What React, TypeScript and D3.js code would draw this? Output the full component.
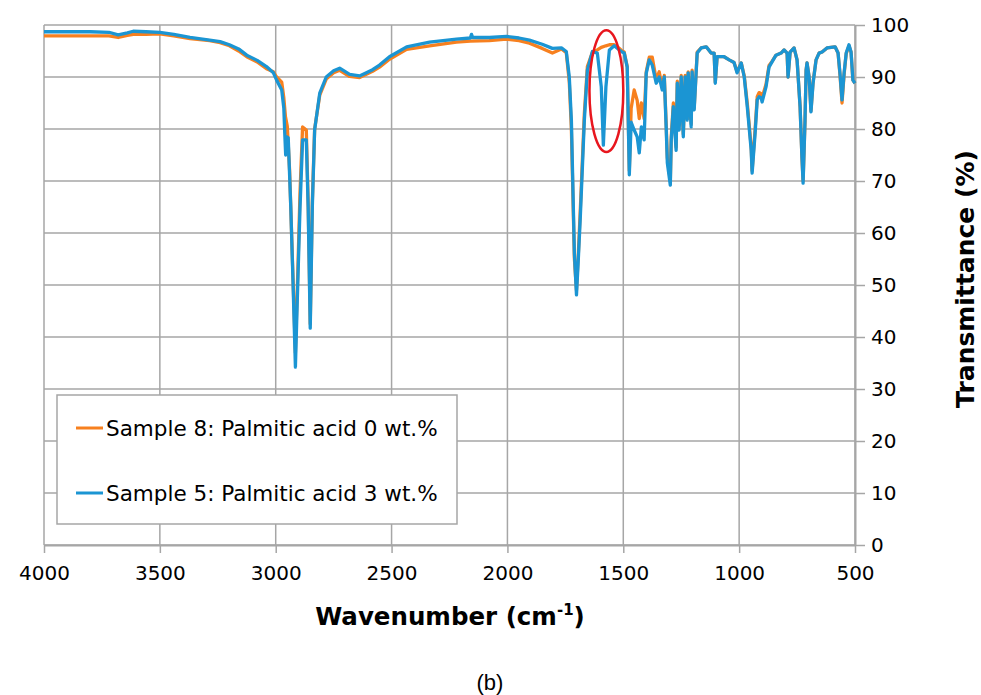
import React, { useRef, useEffect } from 'react';
import * as d3 from 'd3';

// axis ticks
const xTicks = [4000, 3500, 3000, 2500, 2000, 1500, 1000, 500];
const yTicks = [0, 10, 20, 30, 40, 50, 60, 70, 80, 90, 100];

const seriesNames = ['Sample 8: Palmitic acid 0 wt.%', 'Sample 5: Palmitic acid 3 wt.%'];
const seriesColors = ['#f7801f', '#1b95d3'];

// [wavenumber, transmittance %]
const sample8 = [
  [4000, 97.9], [3900, 97.9], [3800, 97.9], [3720, 97.9], [3680, 97.6], [3640, 98.0],
  [3615, 98.2], [3560, 98.2], [3500, 98.3], [3440, 97.9], [3370, 97.4], [3285, 97.0],
  [3240, 96.6], [3200, 96.0], [3160, 95.0], [3125, 93.9], [3080, 92.9], [3040, 91.6],
  [3010, 91.0], [2996, 90.0], [2974, 89.0], [2965, 86], [2958, 82.4], [2950, 80.5],
  [2940, 72], [2928, 55], [2915, 37], [2905, 52], [2895, 68], [2884, 80.4],
  [2868, 79.8], [2860, 66], [2851, 42.5], [2842, 66], [2832, 80], [2810, 86.5],
  [2782, 89.6], [2750, 90.8], [2724, 91.3], [2681, 90.1], [2638, 89.9], [2582, 91.1],
  [2552, 91.9], [2509, 93.4], [2435, 95.3], [2336, 96.0], [2220, 96.7], [2160, 96.9],
  [2078, 97.0], [2004, 97.3], [1950, 97.0], [1905, 96.5], [1850, 95.5], [1806, 94.6],
  [1767, 95.4], [1746, 94.7], [1733, 89], [1724, 80], [1711, 55], [1702, 49],
  [1694, 56], [1686, 64], [1668, 83], [1655, 92], [1633, 94.8], [1612, 95.2],
  [1595, 95.7], [1575, 96.0], [1560, 96.2], [1539, 96.2], [1517, 95.5], [1505, 95.0],
  [1496, 94.8], [1483, 92.0], [1474, 72], [1466, 84], [1453, 87.5], [1440, 85.5],
  [1431, 82], [1422, 85], [1410, 82], [1401, 91], [1388, 93.8], [1375, 93.8],
  [1358, 89.5], [1345, 91], [1332, 88], [1323, 90.3], [1315, 81], [1310, 74.5],
  [1297, 70], [1293, 78.5], [1284, 85], [1272, 76.5], [1267, 89.2], [1259, 80.5],
  [1250, 90.3], [1241, 79], [1233, 90.3], [1224, 82], [1220, 91], [1207, 81],
  [1203, 91.3], [1194, 84], [1185, 91.5], [1181, 94.8], [1164, 95.6], [1142, 95.8],
  [1121, 94.6], [1108, 94.6], [1103, 89], [1095, 93.9], [1065, 93.9], [1043, 93.3],
  [1022, 92.8], [1009, 91], [991, 92.7], [978, 90.2], [965, 85], [948, 76.5],
  [944, 72], [931, 80], [922, 86.2], [914, 87], [905, 86.8], [901, 86],
  [884, 88.6], [871, 92.2], [858, 93], [841, 94.2], [819, 94.6], [806, 95.2],
  [793, 94.6], [789, 90], [780, 94.8], [763, 95.6], [750, 93.3], [737, 84.3],
  [729, 74.6], [724, 70], [716, 81.2], [711, 91.3], [707, 92.7], [698, 90],
  [690, 83.5], [681, 89], [668, 93.3], [655, 94.6], [642, 94.8], [621, 95.6],
  [586, 95.8], [573, 94.6], [565, 90.5], [556, 85], [547, 90.5], [538, 94.5],
  [526, 96], [517, 94.8], [509, 89.4], [500, 88.8],
];

const sample5 = [
  [4000, 98.7], [3900, 98.7], [3800, 98.7], [3720, 98.6], [3680, 98.1], [3640, 98.5],
  [3615, 98.8], [3560, 98.7], [3500, 98.6], [3440, 98.2], [3370, 97.6], [3285, 97.1],
  [3240, 96.8], [3200, 96.2], [3160, 95.4], [3125, 94.2], [3080, 93.2], [3040, 92.0],
  [3010, 90.8], [2996, 89.4], [2974, 87.5], [2965, 84], [2961, 79.2], [2957, 75.0],
  [2952, 78.5], [2946, 78.3], [2935, 65], [2925, 50], [2915, 34.2], [2905, 50],
  [2895, 65], [2884, 77.9], [2868, 77.9], [2860, 65], [2851, 41.7], [2842, 65],
  [2832, 79.8], [2810, 86.9], [2782, 90.0], [2750, 91.2], [2724, 91.7], [2681, 90.5],
  [2638, 90.2], [2582, 91.4], [2552, 92.3], [2509, 93.9], [2435, 95.8], [2336, 96.7],
  [2220, 97.3], [2160, 97.5], [2155, 98.2], [2150, 97.6], [2078, 97.6], [2004, 97.8],
  [1950, 97.5], [1905, 97.1], [1850, 96.3], [1806, 95.5], [1767, 95.6], [1746, 94.9],
  [1733, 90], [1724, 81.7], [1711, 56], [1702, 48.1], [1694, 55], [1686, 62.5],
  [1668, 81.7], [1655, 91.3], [1633, 94.9], [1612, 94.6], [1595, 88.1], [1586, 76.9],
  [1575, 88.1], [1560, 95.2], [1539, 96.0], [1517, 95.2], [1505, 94.8], [1496, 94.6],
  [1483, 91.9], [1474, 71.2], [1466, 81.3], [1453, 79.8], [1440, 78.5], [1431, 75.4],
  [1422, 80.4], [1410, 77.9], [1401, 90.7], [1388, 93.3], [1375, 92.3], [1358, 88.8],
  [1345, 90], [1332, 87.5], [1323, 90], [1315, 80.4], [1310, 73.5], [1297, 69.2],
  [1293, 77.9], [1284, 84.3], [1272, 75.9], [1267, 88.8], [1259, 79.8], [1250, 90],
  [1241, 78.5], [1233, 90], [1224, 81.7], [1220, 90.8], [1207, 80.4], [1203, 91],
  [1194, 83.7], [1185, 91.3], [1181, 94.6], [1164, 95.6], [1142, 95.8], [1121, 94.6],
  [1108, 94.6], [1103, 88.8], [1095, 93.9], [1065, 93.9], [1043, 93.3], [1022, 92.8],
  [1009, 90.8], [991, 92.7], [978, 90], [965, 84.3], [948, 75.9], [944, 71.5],
  [931, 79.2], [922, 85.6], [914, 86.2], [905, 86], [901, 85.2], [884, 88.1],
  [871, 91.9], [858, 92.9], [841, 94.2], [819, 94.6], [806, 95.2], [793, 94.6],
  [789, 90], [780, 94.8], [763, 95.6], [750, 93.3], [737, 84.3], [729, 74.6],
  [724, 69.6], [716, 81.2], [711, 91.3], [707, 92.7], [698, 90], [690, 83.3],
  [681, 88.8], [668, 93.3], [655, 94.6], [642, 94.8], [621, 95.6], [586, 95.8],
  [573, 94.6], [565, 90.8], [556, 85.6], [547, 90.8], [538, 94.6], [526, 96.2],
  [517, 94.8], [509, 89.4], [500, 88.8],
];

// the highlighted band (centre wavenumber, centre %, half-width cm-1, half-height %)
const highlight = [1573, 87.3, 73, 11.7];

const W = 981;
const H = 695;
const left = 44;
const right = 855;
const top = 25;
const bottom = 545;
const gridColor = '#a6a6a6';
const font = '"DejaVu Sans", Verdana, sans-serif';

const App = () => {
  const ref = useRef(null);

  useEffect(() => {
    const svg = d3.select(ref.current);
    svg.selectAll('*').remove();

    const x = d3.scaleLinear().domain([4000, 500]).range([left, right]);
    const y = d3.scaleLinear().domain([0, 100]).range([bottom, top]);

    svg.append('rect').attr('width', W).attr('height', H).attr('fill', '#fff');

    // grid
    const grid = svg.append('g').attr('stroke', gridColor).attr('stroke-width', 1.5);
    grid.selectAll('.v').data(xTicks).enter().append('line')
      .attr('x1', d => x(d)).attr('x2', d => x(d))
      .attr('y1', y(0)).attr('y2', y(100));
    grid.selectAll('.h').data(yTicks).enter().append('line')
      .attr('x1', x(4000)).attr('x2', x(500))
      .attr('y1', d => y(d)).attr('y2', d => y(d));

    // axes
    const xAxis = svg.append('g')
      .attr('transform', `translate(0,${bottom})`)
      .call(d3.axisBottom(x).tickValues(xTicks).tickSizeInner(8).tickSizeOuter(0).tickPadding(13).tickFormat(d3.format('d')));
    const yAxis = svg.append('g')
      .attr('transform', `translate(${right},0)`)
      .call(d3.axisRight(y).tickValues(yTicks).tickSizeInner(10).tickSizeOuter(0).tickPadding(6));
    [xAxis, yAxis].forEach(g => {
      g.select('.domain').attr('stroke', gridColor).attr('stroke-width', 2);
      g.selectAll('.tick line').attr('stroke', gridColor).attr('stroke-width', 1.5);
      g.selectAll('.tick text').attr('fill', '#000').attr('font-size', 20).attr('font-family', font);
    });

    // spectra
    const line = d3.line().x(d => x(d[0])).y(d => y(d[1]));
    [sample8, sample5].forEach((data, i) => {
      svg.append('path')
        .datum(data)
        .attr('d', line)
        .attr('fill', 'none')
        .attr('stroke', seriesColors[i])
        .attr('stroke-width', 3.3)
        .attr('stroke-linejoin', 'round');
    });

    // red ellipse around the new band
    svg.append('ellipse')
      .attr('cx', x(highlight[0]))
      .attr('cy', y(highlight[1]))
      .attr('rx', x(highlight[0] - highlight[2]) - x(highlight[0]))
      .attr('ry', y(highlight[1] - highlight[3]) - y(highlight[1]))
      .attr('fill', 'none')
      .attr('stroke', '#e8161e')
      .attr('stroke-width', 2.5);

    // legend
    const lg = svg.append('g');
    lg.append('rect')
      .attr('x', 57).attr('y', 395).attr('width', 400).attr('height', 129)
      .attr('fill', '#fff').attr('stroke', gridColor).attr('stroke-width', 1.5);
    seriesNames.forEach((name, i) => {
      const ly = 428 + i * 65;
      lg.append('line')
        .attr('x1', 76).attr('x2', 103).attr('y1', ly).attr('y2', ly)
        .attr('stroke', seriesColors[i]).attr('stroke-width', 3);
      lg.append('text')
        .attr('x', 106).attr('y', ly).attr('dy', '0.36em')
        .attr('font-family', font).attr('font-size', 21.5)
        .text(name);
    });

    // axis titles
    const xt = svg.append('text')
      .attr('x', 450).attr('y', 625)
      .attr('text-anchor', 'middle')
      .attr('font-family', font).attr('font-weight', 'bold').attr('font-size', 24.5);
    xt.append('tspan').text('Wavenumber (cm');
    xt.append('tspan').attr('font-size', 15).attr('dy', -10).text('-1');
    xt.append('tspan').attr('dy', 10).text(')');

    svg.append('text')
      .attr('transform', `translate(974,279) rotate(-90)`)
      .attr('text-anchor', 'middle')
      .attr('font-family', font).attr('font-weight', 'bold').attr('font-size', 25)
      .text('Transmittance (%)');

    svg.append('text')
      .attr('x', 490).attr('y', 690)
      .attr('text-anchor', 'middle')
      .attr('font-family', '"Liberation Sans", Arial, sans-serif').attr('font-size', 22)
      .text('(b)');
  }, []);

  return (
    <svg
      ref={ref}
      width={W}
      height={H}
      style={{ position: 'absolute', left: 0, top: 0 }}
    ></svg>
  );
};

export default App;
